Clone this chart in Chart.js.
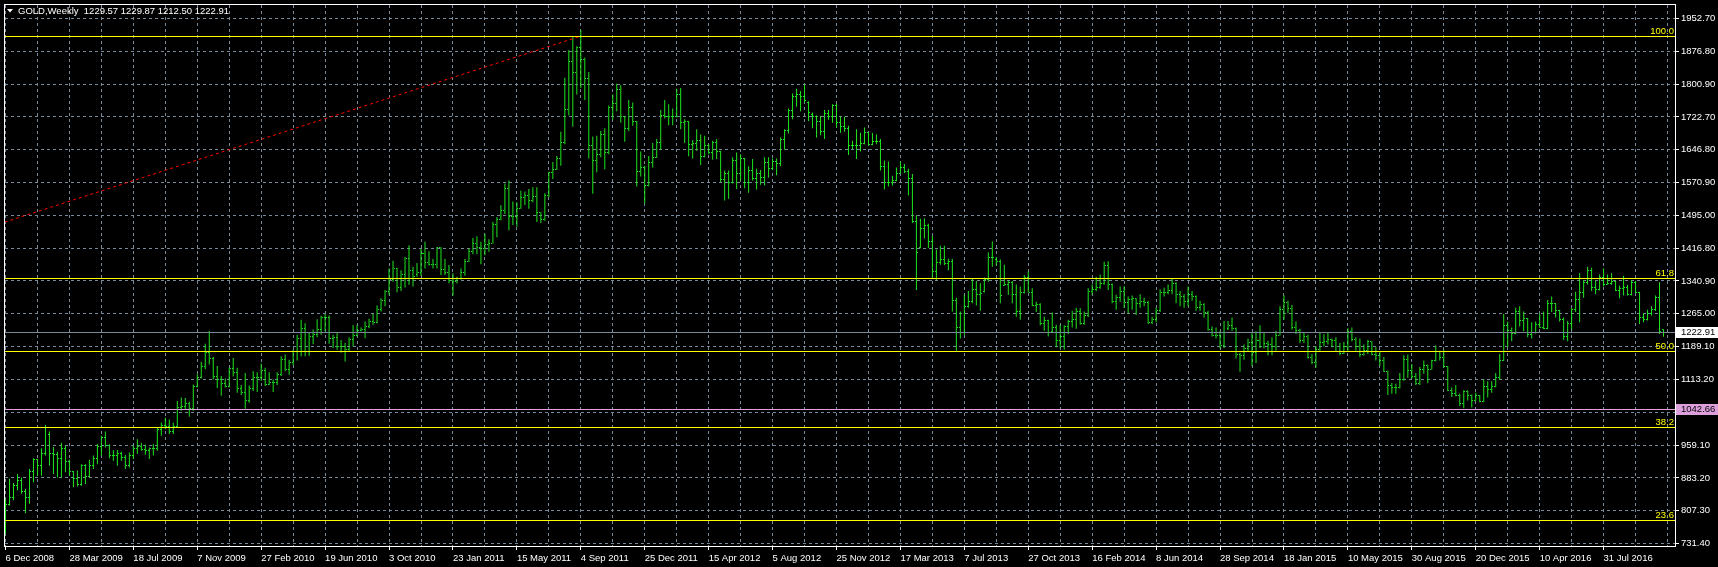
<!DOCTYPE html>
<html><head><meta charset="utf-8">
<script src="https://cdn.jsdelivr.net/npm/chart.js@4.4.1/dist/chart.umd.min.js"></script>
<style>html,body{margin:0;padding:0;background:#000;overflow:hidden}canvas{display:block}</style>
</head><body>
<canvas id="c" width="1718" height="567"></canvas>
<script>
// ---------- DATA ----------
const symbolTitle = "GOLD,Weekly  1229.57 1229.87 1212.50 1222.91";
const dateLabels = ["6 Dec 2008","28 Mar 2009","18 Jul 2009","7 Nov 2009","27 Feb 2010","19 Jun 2010","3 Oct 2010","23 Jan 2011","15 May 2011","4 Sep 2011","25 Dec 2011","15 Apr 2012","5 Aug 2012","25 Nov 2012","17 Mar 2013","7 Jul 2013","27 Oct 2013","16 Feb 2014","8 Jun 2014","28 Sep 2014","18 Jan 2015","10 May 2015","30 Aug 2015","20 Dec 2015","10 Apr 2016","31 Jul 2016"];
const barsPerLabel = 16;
const barsPerGrid = 8;
const yTickLabels = ["731.40","807.30","883.20","959.10","1035.00","1113.20","1189.10","1265.00","1340.90","1416.80","1495.00","1570.90","1646.80","1722.70","1800.90","1876.80","1952.70"];

const opens = [
756,822,838,866,878,853,838,898,927,913,
941,985,940,939,929,953,922,898,883,868,
912,887,914,930,958,979,960,937,937,940,
931,912,937,953,956,950,948,952,953,996,
1006,1003,991,1003,1048,1051,1057,1045,1096,1117,
1143,1175,1162,1120,1112,1104,1097,1138,1130,1091,
1083,1065,1093,1118,1117,1133,1102,1107,1105,1125,
1160,1136,1152,1178,1208,1232,1178,1212,1218,1229,
1256,1256,1208,1210,1190,1189,1182,1205,1215,1227,
1230,1237,1248,1246,1276,1296,1318,1345,1370,1326,
1357,1394,1366,1358,1362,1406,1384,1380,1380,1419,
1369,1361,1343,1340,1348,1362,1388,1410,1429,1420,
1418,1428,1430,1474,1486,1505,1556,1491,1493,1511,
1536,1542,1530,1539,1501,1486,1542,1594,1601,1628,
1663,1742,1852,1828,1884,1858,1813,1657,1623,1636,
1683,1642,1745,1755,1788,1724,1696,1745,1712,1597,
1606,1565,1617,1630,1664,1727,1725,1724,1725,1776,
1710,1712,1659,1662,1668,1631,1658,1642,1663,1643,
1578,1592,1572,1622,1592,1627,1572,1598,1580,1591,
1583,1618,1603,1620,1616,1671,1691,1739,1772,1775,
1772,1758,1730,1724,1712,1690,1731,1725,1751,1711,
1702,1696,1657,1657,1656,1662,1687,1659,1667,1667,
1609,1572,1572,1576,1592,1606,1596,1580,1480,1420,
1463,1470,1435,1365,1386,1393,1383,1387,1297,1234,
1223,1283,1294,1322,1310,1318,1345,1396,1392,1387,
1332,1334,1338,1310,1272,1315,1351,1316,1286,1288,
1243,1250,1225,1234,1203,1213,1237,1247,1252,1270,
1242,1262,1318,1323,1326,1337,1379,1335,1294,1303,
1318,1293,1300,1302,1290,1294,1292,1245,1252,1274,
1316,1316,1320,1337,1310,1307,1294,1311,1305,1281,
1287,1268,1230,1215,1215,1192,1232,1238,1231,1171,
1169,1185,1200,1176,1204,1222,1196,1195,1189,1216,
1276,1293,1278,1234,1227,1203,1212,1165,1152,1182,
1199,1201,1205,1203,1178,1174,1189,1225,1205,1190,
1172,1180,1201,1172,1168,1158,1132,1098,1094,1094,
1113,1160,1134,1121,1103,1137,1145,1137,1156,1177,
1163,1142,1088,1080,1076,1056,1084,1075,1065,1076,
1061,1097,1089,1097,1117,1158,1239,1228,1220,1270,
1250,1255,1217,1222,1240,1234,1232,1290,1290,1273,
1252,1213,1243,1275,1298,1316,1339,1366,1327,1322,
1350,1335,1336,1341,1321,1325,1327,1310,1338,1316,
1257,1252,1267,1275,1304,1229.57];

const highs = [
835,882,872,893,885,858,905,930,928,953,
1007,992,956,945,966,959,927,900,901,916,
916,926,936,963,982,992,962,949,949,945,
937,943,959,974,966,961,955,963,1001,1013,
1024,1020,1012,1063,1071,1070,1061,1101,1125,1154,
1196,1226,1165,1144,1121,1115,1140,1163,1140,1100,
1128,1099,1132,1130,1150,1140,1130,1113,1130,1167,
1171,1159,1182,1217,1252,1244,1221,1229,1253,1261,
1265,1262,1217,1221,1205,1198,1211,1239,1239,1234,
1248,1254,1265,1285,1302,1321,1371,1389,1373,1367,
1398,1425,1375,1384,1417,1433,1411,1393,1421,1421,
1394,1379,1360,1352,1371,1393,1417,1442,1446,1433,
1452,1439,1479,1491,1518,1569,1576,1527,1525,1552,
1550,1556,1560,1560,1502,1546,1596,1619,1633,1689,
1815,1879,1911,1888,1926,1861,1828,1678,1680,1691,
1697,1750,1776,1801,1797,1726,1763,1757,1714,1643,
1610,1633,1663,1672,1740,1763,1753,1743,1789,1791,
1718,1714,1670,1695,1683,1680,1660,1668,1672,1645,
1599,1599,1630,1641,1637,1628,1609,1626,1603,1600,
1630,1630,1627,1627,1676,1695,1743,1778,1789,1784,
1799,1760,1734,1727,1726,1740,1740,1753,1754,1724,
1724,1703,1668,1695,1687,1699,1688,1686,1683,1672,
1622,1620,1587,1606,1620,1614,1603,1591,1495,1487,
1488,1475,1447,1415,1424,1424,1394,1393,1303,1271,
1310,1319,1348,1342,1337,1350,1408,1434,1398,1392,
1380,1344,1342,1334,1329,1356,1364,1325,1294,1290,
1259,1252,1269,1240,1240,1239,1252,1273,1280,1279,
1271,1325,1334,1352,1357,1387,1388,1336,1310,1329,
1330,1306,1308,1302,1311,1303,1296,1259,1280,1323,
1326,1334,1348,1339,1319,1311,1329,1319,1308,1296,
1290,1273,1236,1234,1225,1249,1249,1257,1234,1175,
1194,1208,1221,1225,1239,1223,1203,1211,1226,1283,
1308,1296,1286,1248,1231,1221,1217,1172,1190,1221,
1218,1223,1208,1211,1198,1200,1232,1234,1211,1208,
1194,1205,1202,1188,1178,1165,1134,1105,1103,1128,
1169,1171,1149,1128,1142,1157,1148,1159,1192,1180,
1182,1144,1094,1100,1080,1088,1088,1078,1082,1077,
1113,1109,1109,1128,1172,1265,1248,1234,1280,1283,
1271,1256,1246,1248,1265,1271,1298,1306,1291,1275,
1257,1249,1279,1317,1360,1344,1375,1373,1342,1357,
1371,1357,1360,1342,1331,1354,1333,1344,1342,1317,
1267,1275,1283,1308,1339,1229.87];

const lows = [
754,820,832,855,847,802,824,874,889,889,
936,912,893,885,885,897,889,862,864,866,
870,886,905,916,936,955,930,924,912,924,
905,908,928,940,947,938,928,936,947,982,
998,986,986,1001,1040,1044,1026,1040,1094,1115,
1137,1148,1113,1093,1075,1094,1094,1120,1082,1077,
1045,1059,1086,1084,1110,1098,1100,1084,1100,1121,
1132,1124,1146,1157,1167,1167,1168,1195,1211,1217,
1225,1196,1186,1182,1175,1155,1180,1190,1213,1225,
1209,1232,1240,1244,1271,1283,1310,1340,1316,1319,
1327,1333,1329,1352,1354,1371,1378,1371,1371,1356,
1356,1337,1308,1336,1345,1354,1386,1404,1404,1381,
1402,1410,1429,1444,1483,1498,1460,1472,1468,1510,
1519,1510,1525,1479,1477,1482,1537,1579,1600,1610,
1660,1727,1701,1776,1791,1763,1627,1545,1595,1630,
1602,1637,1718,1737,1710,1666,1690,1703,1562,1585,
1522,1562,1606,1628,1647,1720,1704,1704,1722,1695,
1663,1632,1627,1645,1612,1629,1637,1624,1626,1572,
1529,1533,1569,1556,1576,1558,1547,1576,1555,1566,
1564,1583,1600,1588,1609,1647,1685,1718,1747,1737,
1757,1714,1697,1676,1681,1672,1717,1710,1699,1687,
1689,1635,1649,1626,1643,1660,1657,1658,1660,1599,
1555,1562,1564,1574,1591,1593,1541,1477,1321,1418,
1441,1419,1348,1344,1380,1379,1367,1271,1180,1208,
1217,1280,1290,1285,1273,1315,1340,1375,1378,1290,
1331,1310,1290,1259,1252,1313,1315,1283,1270,1239,
1226,1213,1222,1188,1186,1182,1219,1234,1231,1240,
1240,1258,1310,1318,1324,1333,1321,1290,1275,1294,
1280,1267,1275,1263,1280,1283,1242,1242,1246,1270,
1306,1311,1311,1290,1283,1280,1283,1296,1273,1273,
1257,1226,1213,1208,1185,1186,1228,1226,1162,1131,
1159,1178,1144,1151,1186,1185,1169,1169,1180,1215,
1252,1267,1229,1219,1198,1198,1162,1149,1141,1180,
1190,1194,1188,1177,1169,1172,1178,1202,1180,1165,
1168,1172,1169,1157,1144,1131,1077,1080,1080,1092,
1110,1117,1115,1100,1100,1126,1105,1136,1155,1157,
1141,1086,1072,1074,1051,1046,1064,1048,1063,1060,
1060,1071,1082,1095,1112,1156,1188,1202,1218,1236,
1225,1211,1208,1220,1233,1230,1230,1270,1257,1248,
1205,1202,1229,1270,1246,1303,1334,1319,1311,1320,
1329,1333,1333,1319,1302,1308,1308,1308,1314,1242,
1246,1250,1262,1272,1219,1212.50];

const closes = [
822,838,866,878,853,838,898,927,913,941,
1001,940,939,929,953,922,898,883,868,912,
887,914,930,958,979,960,937,937,940,931,
912,937,953,956,950,948,952,953,996,1006,
1003,991,1003,1048,1051,1057,1045,1096,1117,1143,
1175,1162,1120,1112,1104,1097,1138,1130,1091,1083,
1065,1093,1118,1117,1133,1102,1107,1105,1125,1160,
1136,1152,1178,1208,1232,1178,1212,1218,1229,1256,
1256,1208,1210,1190,1189,1182,1205,1215,1227,1230,
1237,1248,1246,1276,1296,1318,1345,1370,1326,1357,
1394,1366,1353,1362,1406,1384,1380,1380,1419,1369,
1361,1343,1340,1348,1362,1388,1410,1429,1420,1418,
1428,1430,1474,1486,1505,1556,1491,1493,1511,1536,
1542,1530,1539,1501,1486,1542,1594,1601,1628,1663,
1742,1852,1828,1884,1858,1813,1657,1623,1636,1683,
1642,1745,1755,1788,1724,1696,1745,1712,1597,1606,
1565,1617,1630,1664,1727,1725,1724,1725,1776,1710,
1712,1659,1662,1668,1631,1658,1642,1663,1643,1578,
1592,1572,1622,1592,1627,1572,1598,1580,1591,1583,
1618,1603,1620,1616,1671,1691,1739,1772,1775,1772,
1762,1735,1724,1712,1690,1731,1725,1751,1711,1702,
1696,1657,1657,1656,1662,1687,1659,1667,1667,1609,
1572,1572,1576,1592,1606,1596,1580,1480,1408,1463,
1470,1435,1365,1386,1393,1383,1387,1297,1234,1223,
1283,1294,1322,1310,1312,1345,1396,1396,1387,1308,
1334,1338,1310,1272,1315,1351,1316,1286,1288,1243,
1250,1222,1234,1203,1213,1237,1247,1252,1270,1242,
1262,1318,1323,1326,1337,1379,1335,1294,1303,1318,
1293,1300,1302,1290,1294,1292,1245,1252,1274,1316,
1316,1320,1337,1310,1307,1294,1311,1305,1281,1287,
1268,1230,1215,1215,1192,1222,1238,1231,1171,1169,
1185,1200,1176,1204,1222,1196,1195,1189,1216,1276,
1293,1278,1234,1227,1203,1212,1165,1152,1182,1199,
1201,1205,1203,1178,1174,1189,1225,1205,1190,1171,
1180,1201,1172,1168,1158,1132,1098,1094,1094,1113,
1160,1134,1121,1103,1137,1145,1137,1156,1177,1163,
1142,1088,1080,1076,1056,1084,1075,1065,1076,1061,
1097,1089,1097,1117,1158,1239,1228,1220,1270,1250,
1255,1217,1222,1240,1234,1232,1290,1290,1273,1252,
1213,1243,1275,1298,1316,1339,1366,1327,1322,1350,
1335,1336,1341,1321,1325,1327,1310,1338,1316,1257,
1252,1267,1275,1304,1224,1222.91];

// Fibonacci retracement levels and the horizontal lines
const fibNames  = ["23.6","38.2","50.0","61.8","100.0"];
const fibValues = [785.0, 1000.2, 1177.0, 1348.5, 1911.5];
const fibTrendBars   = [-347.5, 144];      // bar index of the two anchors
const fibTrendPrices = [437.0, 1911.5];
const bidPrice = 1222.91;
const alertPrice = 1042.66;

// ---------- STYLE ----------
const BAR = '#1ee61e', GRID = '#778899', YELLOW = '#ffff00', PLUM = '#dda0dd', RED = '#ff0000';
const Y_MIN = 725.62, Y_MAX = 1983.93;     // visible price window
const X_MIN = -0.125, X_MAX = 417.875;     // visible bar window

function pickFont(){
  const g = document.createElement('canvas').getContext('2d');
  const s = '28 Mar 2009 1952.70';
  g.font = '11px monospace'; const wm = g.measureText(s).width;
  g.font = '11px "Liberation Sans Narrow", monospace'; const wn = g.measureText(s).width;
  if (Math.abs(wn - wm) > 0.5) return {family: '"Liberation Sans Narrow"', size: 11};
  return {family: '"Liberation Sans"', size: 9.5};
}
const FONT = pickFont();
const fontStr = () => FONT.size + 'px ' + FONT.family;

function tickImage(left){
  const c = document.createElement('canvas'); c.width = 3; c.height = 1;
  const g = c.getContext('2d'); g.fillStyle = BAR; g.fillRect(left ? 0 : 2, 0, 1, 1);
  return c;
}

const hiloData  = opens.map((o, i) => ({x: i, y: [lows[i], highs[i]]}));
const openData  = opens.map((o, i) => ({x: i, y: o}));
const closeData = closes.map((c, i) => ({x: i, y: c}));

function hLine(value, color, label){
  return {type: 'line', label, hLevel: value, data: [{x: -5, y: value}, {x: 425, y: value}],
    borderColor: color, borderWidth: 1, pointRadius: 0, fill: false, tension: 0, order: 1};
}

const datasets = [
  {type: 'bar', label: 'range', data: hiloData, backgroundColor: BAR, borderWidth: 0,
   barThickness: 1, inflateAmount: 0, order: 5},
  {type: 'scatter', label: 'open', data: openData, pointStyle: tickImage(true), pointRadius: 1, order: 4},
  {type: 'scatter', label: 'close', data: closeData, pointStyle: tickImage(false), pointRadius: 1, order: 4},
  hLine(bidPrice, GRID, 'bid'),
  hLine(alertPrice, PLUM, 'alert'),
  ...fibValues.map((v, k) => hLine(v, YELLOW, 'fib ' + fibNames[k])),
  {type: 'line', label: 'fib trend', data: fibTrendBars.map((b, k) => ({x: b, y: fibTrendPrices[k]})),
   borderColor: RED, borderWidth: 1, borderDash: [3, 3], pointRadius: 0, fill: false, tension: 0, order: 1}
];

const mtPlugin = {
  id: 'mt',
  beforeDraw(chart){
    const ctx = chart.ctx;
    ctx.save(); ctx.fillStyle = '#000'; ctx.fillRect(0, 0, chart.width, chart.height); ctx.restore();
    ctx.imageSmoothingEnabled = false;
  },
  beforeDatasetDraw(chart, args){
    const ds = chart.data.datasets[args.index];
    if (ds.hLevel !== undefined){
      const y = chart.scales.y.getPixelForValue(ds.hLevel);
      chart.ctx.save(); chart.ctx.translate(0, Math.floor(y) + 0.5 - y); ds._shift = true;
    }
  },
  afterDatasetDraw(chart, args){
    const ds = chart.data.datasets[args.index];
    if (ds._shift){ chart.ctx.restore(); ds._shift = false; }
  },
  afterDraw(chart){
    const ctx = chart.ctx, ca = chart.chartArea, ys = chart.scales.y;
    ctx.save();
    // frame
    ctx.strokeStyle = '#ffffff'; ctx.lineWidth = 1; ctx.setLineDash([]);
    ctx.strokeRect(ca.left - 0.5, ca.top - 0.5, ca.right - ca.left + 1, ca.bottom - ca.top + 1);
    ctx.font = fontStr();
    // title
    ctx.fillStyle = '#ffffff';
    ctx.beginPath(); ctx.moveTo(7, 9); ctx.lineTo(13, 9); ctx.lineTo(10, 12.5); ctx.closePath(); ctx.fill();
    ctx.textAlign = 'left'; ctx.textBaseline = 'middle';
    ctx.fillText(symbolTitle, 18, 11);
    // fib level labels
    ctx.fillStyle = YELLOW; ctx.textAlign = 'right'; ctx.textBaseline = 'alphabetic';
    fibValues.forEach((v, k) => {
      const y = Math.floor(ys.getPixelForValue(v));
      ctx.fillText(fibNames[k], ca.right - 1, y - 2);
    });
    // price boxes on the axis
    const box = (value, bg) => {
      const y = Math.floor(ys.getPixelForValue(value)) + 0.5;
      ctx.fillStyle = bg; ctx.fillRect(ca.right + 1, Math.round(y - 5.5), chart.width - ca.right - 1, 11);
      ctx.fillStyle = '#000'; ctx.textAlign = 'left'; ctx.textBaseline = 'middle';
      ctx.fillText(value.toFixed(2), ca.right + 6, y);
    };
    box(bidPrice, '#ffffff');
    box(alertPrice, PLUM);
    ctx.restore();
  }
};

new Chart(document.getElementById('c'), {
  type: 'bar',
  data: {datasets},
  options: {
    responsive: false, animation: false, events: [], devicePixelRatio: 1,
    layout: {padding: {left: 3, top: 2, right: 0, bottom: 0}},
    plugins: {legend: {display: false}, tooltip: {enabled: false}, title: {display: false}},
    scales: {
      x: {
        type: 'linear', min: X_MIN, max: X_MAX, offset: false, bounds: 'data',
        afterBuildTicks(s){ const t = []; for (let v = 0; v <= X_MAX; v += barsPerGrid) t.push({value: v}); s.ticks = t; },
        afterFit(s){ s.height = 21; s.paddingLeft = 0; s.paddingRight = 0; },
        grid: {color: GRID, lineWidth: 1, drawTicks: true, tickLength: 4, offset: false,
               tickColor: (c) => (c.tick && c.tick.value % barsPerLabel === 0 && dateLabels[c.tick.value / barsPerLabel]) ? '#ffffff' : 'rgba(0,0,0,0)',
               tickBorderDash: []},
        border: {display: false, dash: [3, 3]},
        ticks: {autoSkip: false, maxRotation: 0, minRotation: 0, align: 'start', padding: 3,
                color: '#ffffff', font: {family: FONT.family, size: FONT.size},
                callback: (v) => (v % barsPerLabel === 0 ? (dateLabels[v / barsPerLabel] || '') : '')}
      },
      y: {
        type: 'linear', position: 'right', min: Y_MIN, max: Y_MAX, bounds: 'data',
        afterBuildTicks(s){
          const a = parseFloat(yTickLabels[0]), b = parseFloat(yTickLabels[yTickLabels.length - 1]);
          const step = (b - a) / (yTickLabels.length - 1);
          s.ticks = yTickLabels.map((t, k) => ({value: a + k * step}));
        },
        afterFit(s){ s.width = 43; s.paddingTop = 0; s.paddingBottom = 0; },
        grid: {color: GRID, lineWidth: 1, drawTicks: true, tickLength: 4, tickColor: '#ffffff', tickBorderDash: []},
        border: {display: false, dash: [3, 3]},
        ticks: {autoSkip: false, padding: 2, color: '#ffffff', font: {family: FONT.family, size: FONT.size},
                callback: (v, i) => yTickLabels[i]}
      }
    }
  },
  plugins: [mtPlugin]
});
</script>
</body></html>
